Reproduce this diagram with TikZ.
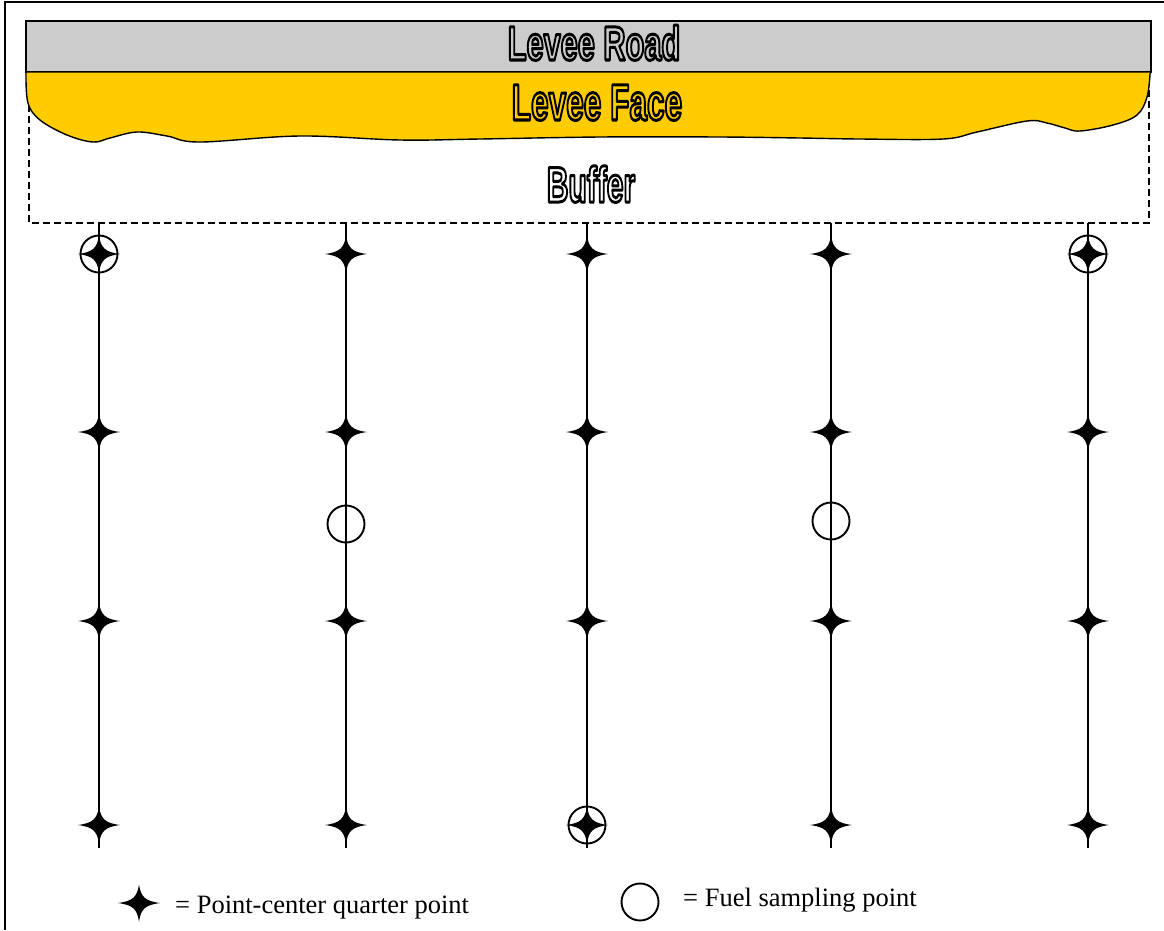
\documentclass[tikz,border=0pt]{standalone}
\usepackage{fontspec}
\setmainfont{Liberation Serif}
\newfontfamily\signfont{Liberation Sans}
\usepackage{graphicx}
\definecolor{roadgray}{HTML}{CCCCCC}
\definecolor{faceyellow}{HTML}{FFCC00}
% hollow (stroked) lettering for the zone labels: condensing factor, size, text
\newcommand\hollow[3]{\scalebox{#1}[1]{\fontsize{#2}{#2}\signfont\bfseries
  \special{pdf:literal direct 1 Tr 3 w 1 j}#3\special{pdf:literal direct 0 Tr}}}
\tikzset{
  frame/.style={line width=2.5pt},
  edge/.style={line width=1.4pt},
  buffer/.style={line width=1.4pt, dash pattern=on 7pt off 4pt},
  transect/.style={line width=1.4pt},
  ring/.style={draw, circle, minimum size=37pt, inner sep=0pt, line width=1.9pt},
  sign/.style={inner sep=0pt, anchor=base},
  legend/.style={inner sep=0pt, anchor=base west, font=\fontsize{26.5}{30}\selectfont},
  pics/quarter/.style={code={
    \fill (21,0) .. controls (6,2) and (2,6) .. (0,18.5)
          .. controls (-2,6) and (-6,2) .. (-21,0)
          .. controls (-6,-2) and (-2,-6) .. (0,-18.5)
          .. controls (2,-6) and (6,-2) .. (21,0) -- cycle;}}
}
\begin{document}
\begin{tikzpicture}[x=1pt,y=-1pt]
\useasboundingbox (0,0) rectangle (1164,930);
% outer frame (left and top rules)
\draw[frame] (5,930) -- (5,2) -- (1164,2);
% buffer zone
\draw[buffer] (29,72) rectangle (1149,223);
% levee road
\filldraw[fill=roadgray, edge] (26,21) rectangle (1151,72);
% levee face with irregular toe
\filldraw[fill=faceyellow, edge] (26,72) -- (1151,72) -- plot[smooth, tension=0.6] coordinates {
  (1150,74) (1147,97) (1137,115) (1113,125) (1080,131) (1065,128) (1047,123)
  (1027,121) (977,132) (943,139) (860,139) (800,138) (720,137) (600,137)
  (480,139) (400,140) (300,136) (200,142) (167,136) (137,132) (110,138)
  (93,142) (67,135) (40,120) (28,103) (26,74)} -- cycle;
% zone labels
\node[sign] (road) at (594,60) {\hollow{0.64}{48}{Levee Road}};
\node[sign] (face) at (597,120) {\hollow{0.62}{51}{Levee Face}};
\node[sign] (buf) at (591,202) {\hollow{0.60}{50}{Buffer}};
% transects and point-center quarter points
\foreach \c/\x in {1/99,2/346,3/587,4/831,5/1088} {
  \coordinate (t\c) at (\x,223);
  \coordinate (b\c) at (\x,848);
  \foreach \r/\y in {1/254,2/432,3/621,4/825}
    \coordinate (q\c-\r) at (\x,\y);
}
\foreach \c in {1,...,5} {
  \draw[transect] (t\c) -- (b\c);
  \foreach \r in {1,...,4} \pic at (q\c-\r) {quarter};
}
% fuel sampling points
\node[ring] (fs1) at (q1-1) {};
\node[ring] (fs2) at (q5-1) {};
\node[ring] (fs3) at (q3-4) {};
\node[ring] (fs4) at (346,524) {};
\node[ring] (fs5) at (831,521) {};
% legend
\coordinate (keyq) at (139,903);
\pic at (keyq) {quarter};
\node[legend] (keyqtext) at (175,913) {= Point-center quarter point};
\node[ring] (keyf) at (640,902) {};
\node[legend] (keyftext) at (683,906) {= Fuel sampling point};
\end{tikzpicture}
\end{document}
